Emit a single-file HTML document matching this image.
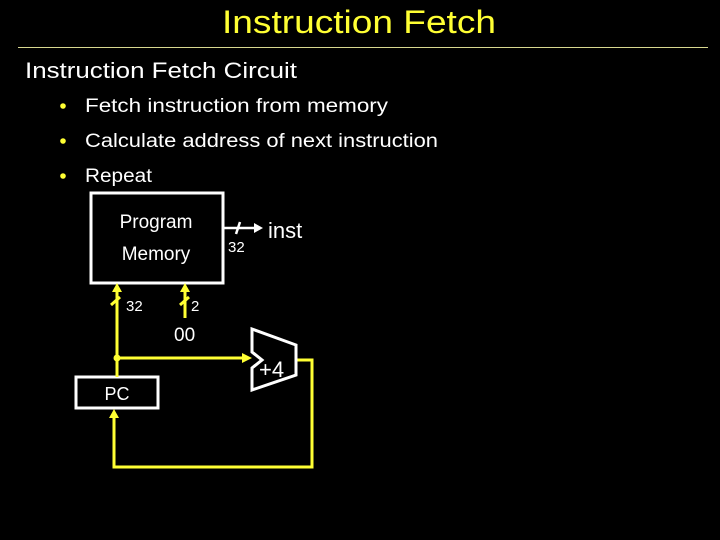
<!DOCTYPE html>
<html><head><style>html,body{margin:0;padding:0;background:#000;}svg{display:block}</style></head>
<body>
<svg width="720" height="540" viewBox="0 0 720 540" xmlns="http://www.w3.org/2000/svg" font-family="Liberation Sans, sans-serif">
<rect width="720" height="540" fill="#000"/>
<text x="222" y="33" font-size="32" fill="#ffff33" textLength="274" lengthAdjust="spacingAndGlyphs">Instruction Fetch</text>
<line x1="18" y1="47.5" x2="708" y2="47.5" stroke="#d8d890" stroke-width="1"/>
<text x="25" y="78" font-size="22" fill="#fff" textLength="272" lengthAdjust="spacingAndGlyphs">Instruction Fetch Circuit</text>
<g fill="#ffff33"><circle cx="63" cy="106" r="2.8"/><circle cx="63" cy="141" r="2.8"/><circle cx="63" cy="176" r="2.8"/></g>
<g font-size="19" fill="#fff">
<text x="85" y="112" textLength="303" lengthAdjust="spacingAndGlyphs">Fetch instruction from memory</text>
<text x="85" y="147" textLength="353" lengthAdjust="spacingAndGlyphs">Calculate address of next instruction</text>
<text x="85" y="182" textLength="67" lengthAdjust="spacingAndGlyphs">Repeat</text>
</g>
<!-- memory -->
<rect x="91" y="193" width="132" height="90" fill="none" stroke="#fff" stroke-width="3"/>
<text x="156" y="228" font-size="19" fill="#fff" text-anchor="middle">Program</text>
<text x="156" y="260" font-size="19" fill="#fff" text-anchor="middle">Memory</text>
<!-- inst -->
<line x1="223" y1="228" x2="256" y2="228" stroke="#fff" stroke-width="2.5"/>
<polygon points="263,228 254,223 254,233" fill="#fff"/>
<line x1="236" y1="234" x2="240" y2="222" stroke="#fff" stroke-width="2.5"/>
<text x="228" y="252" font-size="15" fill="#fff">32</text>
<text x="268" y="238" font-size="22" fill="#fff">inst</text>
<!-- PC -->
<rect x="76" y="377" width="82" height="31" fill="none" stroke="#fff" stroke-width="3"/>
<text x="117" y="400" font-size="18" fill="#fff" text-anchor="middle">PC</text>
<g stroke="#ffff33" stroke-width="3" fill="none">
<line x1="117" y1="290" x2="117" y2="377"/>
<line x1="117" y1="358" x2="244" y2="358"/>
<line x1="185" y1="290" x2="185" y2="318"/>
<polyline points="296,360 312,360 312,467 114,467 114,416"/>
<line x1="111" y1="305" x2="120" y2="297"/>
<line x1="180" y1="305" x2="189" y2="297"/>
</g>
<g fill="#ffff33">
<polygon points="117,283 112,292 122,292"/>
<polygon points="185,283 180,292 190,292"/>
<polygon points="252,358 242,353 242,363"/>
<polygon points="114,409 109,418 119,418"/>
<circle cx="117" cy="358" r="3.5"/>
</g>
<text x="126" y="311" font-size="15" fill="#fff">32</text>
<text x="191" y="311" font-size="15" fill="#fff">2</text>
<text x="174" y="341" font-size="19" fill="#fff">00</text>
<!-- adder -->
<polygon points="252,329 296,345 296,375 252,390 252,368 262,360 252,352" fill="none" stroke="#fff" stroke-width="3"/>
<text x="259" y="377" font-size="22" fill="#fff">+4</text>
</svg>
</body></html>
